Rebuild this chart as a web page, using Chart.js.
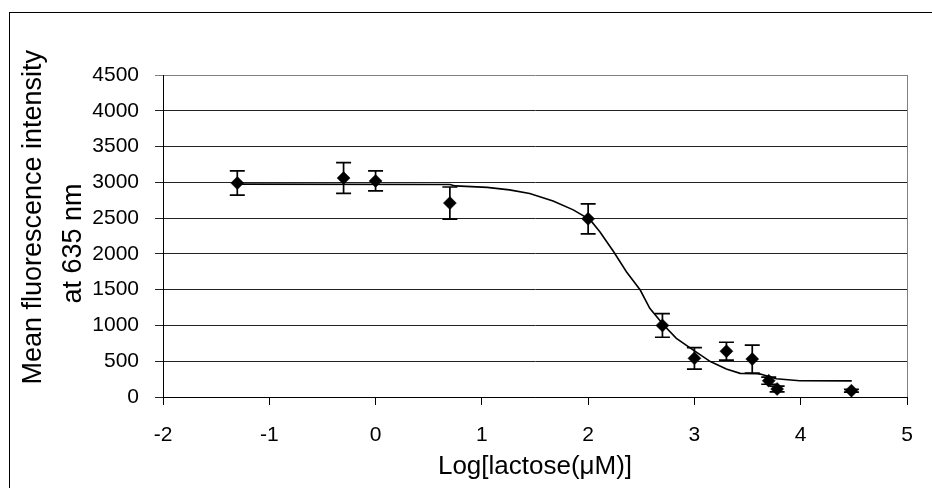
<!DOCTYPE html>
<html><head><meta charset="utf-8">
<script src="https://cdn.jsdelivr.net/npm/chart.js@4/dist/chart.umd.min.js"></script>
<style>html,body{margin:0;padding:0;background:#fff;}#wrap{width:932px;height:488px;position:relative;}</style>
</head><body><div id="wrap"><canvas id="c" width="932" height="488"></canvas></div>
<script>
// measured points
const logLactose = [-1.301, -0.301, 0, 0.699, 2, 2.699, 3, 3.301, 3.544, 3.699, 3.778, 4.477];
const meanFluor  = [2990, 3060, 3020, 2710, 2490, 1000, 540, 640, 530, 228, 112, 88];
const errFluor   = [170, 215, 140, 225, 210, 165, 150, 125, 195, 50, 40, 20];
// fitted curve
const fitX = [-1.301, 0.70, 0.75, 1.05, 1.26, 1.45, 1.67, 1.86, 2.02, 2.11, 2.24, 2.36, 2.49, 2.58, 2.71, 2.83, 2.99, 3.15, 3.30, 3.43, 3.59, 3.62, 3.70, 3.77, 3.99, 4.48];
const fitY = [2975, 2970, 2950, 2930, 2895, 2845, 2740, 2615, 2475, 2310, 2030, 1750, 1495, 1240, 1005, 820, 655, 495, 390, 330, 325, 320, 285, 255, 228, 225];
const yTicks = [0, 500, 1000, 1500, 2000, 2500, 3000, 3500, 4000, 4500];
const xTicks = [-2, -1, 0, 1, 2, 3, 4, 5];
const yTitle = ['Mean fluorescence intensity', 'at 635 nm'];
const xTitle = 'Log[lactose(μM)]';

const FONT = "'Liberation Sans', Arial, sans-serif";

const framePlugin = {
  id: 'frame',
  beforeDraw(chart) {
    const ctx = chart.ctx;
    ctx.save();
    ctx.fillStyle = '#fff';
    ctx.fillRect(0, 0, chart.width, chart.height);
    ctx.strokeStyle = '#000';
    ctx.lineWidth = 1;
    ctx.strokeRect(9.5, 12.5, 1000, 1000);
    ctx.restore();
  },
  afterDraw(chart) {
    const {ctx, chartArea: a} = chart;
    ctx.save();
    ctx.strokeStyle = '#808080';
    ctx.lineWidth = 1;
    ctx.beginPath();
    ctx.moveTo(Math.round(a.right) + 0.5, a.top);
    ctx.lineTo(Math.round(a.right) + 0.5, a.bottom);
    ctx.stroke();
    ctx.restore();
  }
};

const errorBarPlugin = {
  id: 'errbars',
  afterDatasetsDraw(chart) {
    const {ctx, scales: {x, y}} = chart;
    ctx.save();
    ctx.strokeStyle = '#000';
    ctx.lineWidth = 1.7;
    for (let i = 0; i < logLactose.length; i++) {
      const px = x.getPixelForValue(logLactose[i]);
      const top = y.getPixelForValue(meanFluor[i] + errFluor[i]);
      const bot = y.getPixelForValue(meanFluor[i] - errFluor[i]);
      ctx.beginPath();
      ctx.moveTo(px, top); ctx.lineTo(px, bot);
      ctx.moveTo(px - 7.5, top); ctx.lineTo(px + 7.5, top);
      ctx.moveTo(px - 7.5, bot); ctx.lineTo(px + 7.5, bot);
      ctx.stroke();
    }
    ctx.restore();
  }
};

new Chart(document.getElementById('c'), {
  type: 'scatter',
  data: {
    datasets: [
      {
        label: 'data',
        data: logLactose.map((v, i) => ({x: v, y: meanFluor[i]})),
        pointStyle: 'rectRot',
        pointRadius: 6.5,
        pointBackgroundColor: '#000',
        pointBorderColor: '#000',
        pointBorderWidth: 0.5,
        showLine: false,
        order: 0
      },
      {
        label: 'fit',
        data: fitX.map((v, i) => ({x: v, y: fitY[i]})),
        showLine: true,
        borderColor: '#000',
        borderWidth: 1.6,
        pointRadius: 0,
        tension: 0,
        order: 1
      }
    ]
  },
  options: {
    responsive: false,
    animation: false,
    devicePixelRatio: 1,
    layout: {padding: {left: 0, top: 75, right: 25, bottom: 0}},
    plugins: {legend: {display: false}, tooltip: {enabled: false}},
    scales: {
      x: {
        type: 'linear', min: -2, max: 5,
        afterBuildTicks: s => { s.ticks = xTicks.map(v => ({value: v})); },
        ticks: {font: {family: FONT, size: 21}, color: '#000', padding: 18, maxRotation: 0, callback: v => String(v)},
        grid: {drawOnChartArea: false, drawTicks: true, tickLength: 8, color: '#000', lineWidth: 1},
        border: {display: true, color: '#000', width: 1},
        title: {display: true, text: xTitle, color: '#000', font: {family: FONT, size: 26, lineHeight: 1.2}, padding: {top: 0, bottom: 6}},
        afterFit: s => { s.height = 91; }
      },
      y: {
        min: 0, max: 4500,
        afterBuildTicks: s => { s.ticks = yTicks.map(v => ({value: v})); },
        ticks: {font: {family: FONT, size: 21}, color: '#000', padding: 16, callback: v => String(v)},
        grid: {drawTicks: true, tickLength: 8, color: c => (c.tick && c.tick.value === 4500) ? '#808080' : '#222', lineWidth: 1},
        border: {display: true, color: '#000', width: 1},
        title: {display: true, text: ['\u00a0\u00a0\u00a0\u00a0\u00a0' + yTitle[0], yTitle[1] + '\u00a0\u00a0'], color: '#000', font: {family: FONT, size: 27, lineHeight: '40px'}, padding: {top: 14, bottom: 0}},
        afterFit: s => { s.width = 163; }
      }
    }
  },
  plugins: [framePlugin, errorBarPlugin]
});
</script>
</body></html>
